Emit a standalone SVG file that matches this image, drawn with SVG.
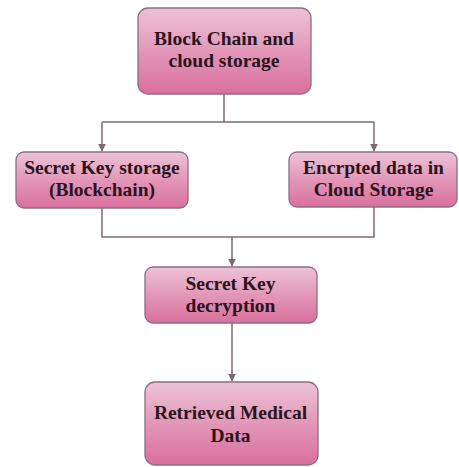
<svg xmlns="http://www.w3.org/2000/svg" width="459" height="467" viewBox="0 0 459 467">
  <defs>
    <linearGradient id="boxFill" x1="0" y1="0" x2="0" y2="1">
      <stop offset="0" stop-color="#ecc3d6"/>
      <stop offset="0.55" stop-color="#e293b5"/>
      <stop offset="1" stop-color="#d9709c"/>
    </linearGradient>
    <marker id="arrow" viewBox="0 0 10 10" refX="9" refY="5" markerWidth="8" markerHeight="8" markerUnits="userSpaceOnUse" orient="auto">
      <path d="M0,0 L10,5 L0,10 Z" fill="#7d6a77"/>
    </marker>
  </defs>
  <style>
    .box { fill: url(#boxFill); stroke: #8c6f80; stroke-width: 1.3; }
    .label { font-family: 'Liberation Serif', 'Times New Roman', serif; font-weight: 700; font-size: 19.5px; fill: #2a1420; text-anchor: middle; }
    .wire { fill: none; stroke: #7d6a77; stroke-width: 1.5; }
  </style>
  <rect width="459" height="467" fill="#ffffff"/>

  <g id="connectors">
    <polyline class="wire" points="224,94 224,122"/>
    <polyline class="wire" points="102,122 374,122"/>
    <polyline class="wire" points="102,122 102,151" marker-end="url(#arrow)"/>
    <polyline class="wire" points="374,122 374,151" marker-end="url(#arrow)"/>
    <polyline class="wire" points="102,208 102,237 374,237 374,207"/>
    <polyline class="wire" points="232,237 232,266" marker-end="url(#arrow)"/>
    <polyline class="wire" points="232,323 232,381" marker-end="url(#arrow)"/>
  </g>

  <g id="node-blockchain-cloud">
    <rect class="box" x="138" y="8" width="173" height="86" rx="10"/>
    <text class="label" x="224" y="44.5">Block Chain and</text>
    <text class="label" x="224" y="67">cloud storage</text>
  </g>

  <g id="node-secret-key-storage">
    <rect class="box" x="16" y="152" width="172" height="56" rx="8"/>
    <text class="label" x="102" y="173.5">Secret Key storage</text>
    <text class="label" x="102" y="196">(Blockchain)</text>
  </g>

  <g id="node-encrypted-data">
    <rect class="box" x="289" y="152" width="168" height="55" rx="8"/>
    <text class="label" x="373.5" y="173.5">Encrpted data in</text>
    <text class="label" x="373.5" y="196">Cloud Storage</text>
  </g>

  <g id="node-key-decryption">
    <rect class="box" x="145" y="267" width="172" height="56" rx="8"/>
    <text class="label" x="230.5" y="289.5">Secret Key</text>
    <text class="label" x="230.5" y="312">decryption</text>
  </g>

  <g id="node-retrieved-data">
    <rect class="box" x="145" y="382" width="173" height="83" rx="10"/>
    <text class="label" x="230.5" y="419">Retrieved Medical</text>
    <text class="label" x="230.5" y="441.5">Data</text>
  </g>
</svg>
